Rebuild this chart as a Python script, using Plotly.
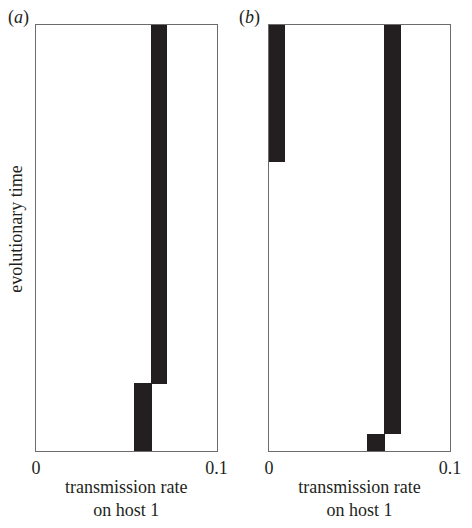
import plotly.graph_objects as go

# Panel (a): strains (trait interval on host 1, time interval)
a_lo = [0.0636, 0.0542]
a_hi = [0.0727, 0.0640]
a_t0 = [0.157, 0.0]
a_t1 = [1.0, 0.160]

# Panel (b)
b_lo = [0.0, 0.0636, 0.0544]
b_hi = [0.0089, 0.0731, 0.0638]
b_t0 = [0.678, 0.040, 0.0]
b_t1 = [1.0, 1.0, 0.040]

x_ticks = [0, 0.1]
x_ticklabels = ["0", "0.1"]

BAR = "#231f20"
FONT = "Liberation Serif"
FS = 18

fig = go.Figure()

def add_bars(lo, hi, t0, t1, xa, ya):
    fig.add_trace(go.Bar(
        x=[(l + h) / 2 for l, h in zip(lo, hi)],
        width=[h - l for l, h in zip(lo, hi)],
        base=t0,
        y=[e - s for s, e in zip(t0, t1)],
        marker=dict(color=BAR, line=dict(width=0)),
        xaxis=xa, yaxis=ya, showlegend=False, hoverinfo="skip",
    ))

add_bars(a_lo, a_hi, a_t0, a_t1, "x", "y")
add_bars(b_lo, b_hi, b_t0, b_t1, "x2", "y2")

ydom = [(528 - 451) / 528, (528 - 25) / 528]
axis_common = dict(
    range=[0, 0.1], tickvals=x_ticks, ticktext=x_ticklabels, ticks="",
    showgrid=False, zeroline=False, showline=True, mirror=True,
    linecolor="#6b6b6b", linewidth=1,
    tickfont=dict(family=FONT, size=FS, color="#231f20"),
    title=dict(text="transmission rate<br>on host 1",
               font=dict(family=FONT, size=FS, color="#231f20"), standoff=3),
)
yaxis_common = dict(
    range=[0, 1], showticklabels=False, ticks="", showgrid=False,
    zeroline=False, showline=True, mirror=True, linecolor="#6b6b6b", linewidth=1,
    domain=ydom,
)

fig.update_layout(
    width=472, height=528,
    margin=dict(l=0, r=0, t=0, b=0),
    plot_bgcolor="white", paper_bgcolor="white",
    barmode="overlay", bargap=0,
    xaxis=dict(domain=[32 / 472, 219 / 472], anchor="y", **axis_common),
    xaxis2=dict(domain=[273.3 / 472, 460.7 / 472], anchor="y2", **axis_common),
    yaxis=dict(anchor="x", **yaxis_common),
    yaxis2=dict(anchor="x2", **yaxis_common),
    annotations=[
        dict(text="evolutionary time", x=11 / 472, y=1 - 229 / 528,
             xref="paper", yref="paper", textangle=-90,
             xanchor="center", yanchor="middle", showarrow=False,
             font=dict(family=FONT, size=FS, color="#231f20")),
        dict(text="(<i>a</i>)", x=1 / 472, y=1 - 18 / 528, xref="paper", yref="paper",
             xanchor="left", yanchor="middle", showarrow=False,
             font=dict(family=FONT, size=FS, color="#231f20")),
        dict(text="(<i>b</i>)", x=240 / 472, y=1 - 18 / 528, xref="paper", yref="paper",
             xanchor="left", yanchor="middle", showarrow=False,
             font=dict(family=FONT, size=FS, color="#231f20")),
    ],
)

fig.write_html("out.html")
